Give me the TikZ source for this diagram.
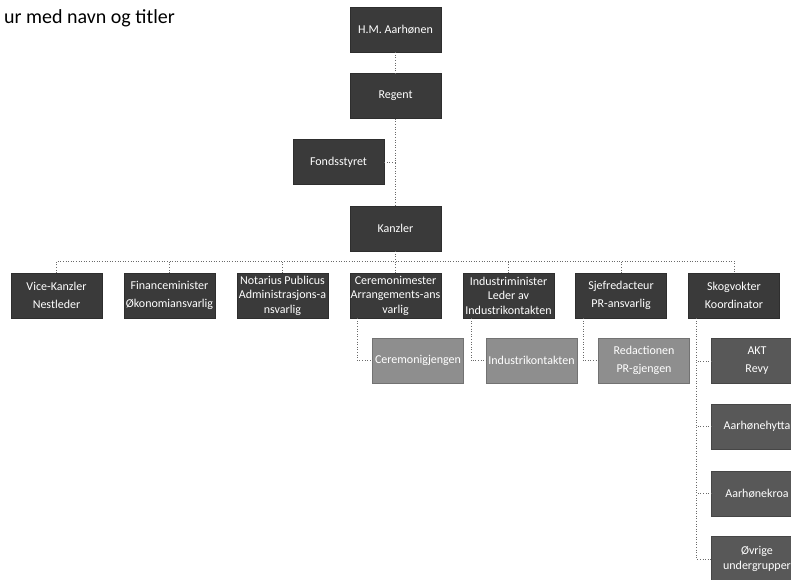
\documentclass[tikz,border=0pt]{standalone}
\usepackage{fontspec}
\setmainfont{Carlito}
\definecolor{boxdark}{HTML}{3A3A3A}
\definecolor{boxmid}{HTML}{585858}
\definecolor{boxlight}{HTML}{8E8E8E}
\definecolor{linec}{HTML}{6A6A6A}
\begin{document}
\begin{tikzpicture}[x=1pt,y=-1pt,
  orgbox/.style={draw=boxdark!80!black,line width=0.4pt,fill=boxdark,text=white,minimum width=91pt,minimum height=45pt,inner sep=1pt,align=center,font=\fontsize{12}{18}\selectfont},
  tight/.style={font=\fontsize{12}{14.5}\selectfont},
  subbox/.style={orgbox,fill=boxlight,draw=boxlight!80!black},
  skogbox/.style={orgbox,fill=boxmid,draw=boxmid!80!black},
  conn/.style={draw=linec,line width=0.6pt,dotted}]
\useasboundingbox (0,0) rectangle (791,579);
\node[anchor=base east,inner sep=0,font=\fontsize{20}{24}\selectfont] (title) at (175,23.3) {ur med navn og titler};
% top chain
\node[orgbox] (hm) at (395.5,29.5) {H.M. Aarhønen};
\node[orgbox] (regent) at (395.5,96) {Regent};
\node[orgbox] (fond) at (338.5,162) {Fondsstyret};
\node[orgbox] (kanzler) at (395.5,228.5) {Kanzler};
% row
\node[orgbox] (vice) at (56.5,295.5) {Vice-Kanzler\\Nestleder};
\node[orgbox] (fin) at (169.5,295.5) {Financeminister\\Økonomiansvarlig};
\node[orgbox,tight] (not) at (282.5,295.5) {Notarius Publicus\\Administrasjons-a\\nsvarlig};
\node[orgbox,tight] (cer) at (395.5,295.5) {Ceremonimester\\Arrangements-ans\\varlig};
\node[orgbox,tight] (ind) at (508.5,295.5) {Industriminister\\Leder av\\Industrikontakten};
\node[orgbox] (sjef) at (621,295.5) {Sjefredacteur\\PR-ansvarlig};
\node[orgbox] (skog) at (734,295.5) {Skogvokter\\Koordinator};
% sub boxes
\node[subbox] (cerg) at (418,360.5) {Ceremonigjengen};
\node[subbox] (indk) at (531.5,360.5) {Industrikontakten};
\node[subbox] (red) at (644,360.5) {Redactionen\\PR-gjengen};
\node[skogbox] (akt) at (757,361) {AKT\\Revy};
\node[skogbox] (hytta) at (757,426.5) {Aarhønehytta};
\node[skogbox] (kroa) at (757,493.5) {Aarhønekroa};
\node[skogbox,tight] (ovr) at (757,559) {Øvrige\\undergrupper};
% connectors
\draw[conn] (hm) -- (regent);
\draw[conn] (regent) -- (kanzler);
\draw[conn] (fond.east) -- (fond.east -| regent.south);
\coordinate (bus) at (395.5,261);
\draw[conn] (kanzler.south) -- (bus);
\draw[conn] (vice.north) |- (bus) -| (skog.north);
\foreach \n in {fin,not,cer,ind,sjef}{\draw[conn] (\n.north) -- (\n.north |- bus);}
\draw[conn] ([xshift=8pt]cer.south west) |- (cerg.west);
\draw[conn] ([xshift=8pt]ind.south west) |- (indk.west);
\draw[conn] ([xshift=8pt]sjef.south west) |- (red.west);
\coordinate (skogtrunk) at ([xshift=8pt]skog.south west);
\draw[conn] (skogtrunk) |- (ovr.west);
\foreach \n in {akt,hytta,kroa}{\draw[conn] (\n.west) -- (\n.west -| skogtrunk);}
\end{tikzpicture}
\end{document}
